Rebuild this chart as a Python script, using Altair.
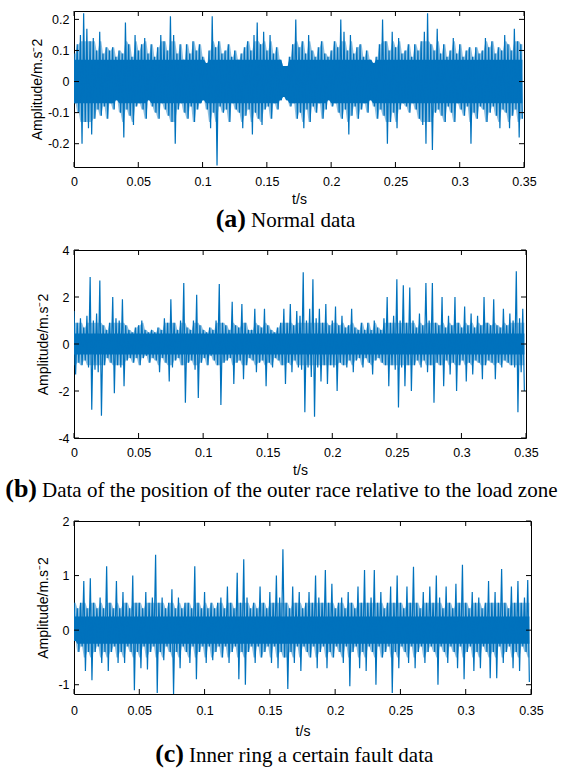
import altair as alt
import pandas as pd

STEP = 0.0025  # sampling step of the envelope (s)

# ---- panel (a): normal data, upper / lower excursions per step ----
A_HI = [0.09, 0.12, 0.15, 0.22, 0.17, 0.13, 0.14, 0.10, 0.16, 0.09,
        0.11, 0.10, 0.11, 0.08, 0.10, 0.09, 0.19, 0.12, 0.08, 0.15,
        0.10, 0.12, 0.14, 0.09, 0.12, 0.08, 0.11, 0.15, 0.13, 0.10,
        0.21, 0.15, 0.09, 0.12, 0.07, 0.12, 0.09, 0.13, 0.10, 0.12,
        0.08, 0.06, 0.10, 0.21, 0.11, 0.13, 0.09, 0.10, 0.12, 0.08,
        0.10, 0.07, 0.09, 0.11, 0.13, 0.10, 0.15, 0.19, 0.12, 0.16,
        0.10, 0.15, 0.09, 0.11, 0.07, 0.05, 0.05, 0.08, 0.12, 0.20,
        0.11, 0.13, 0.09, 0.15, 0.10, 0.08, 0.11, 0.13, 0.09, 0.08,
        0.10, 0.13, 0.11, 0.20, 0.16, 0.10, 0.15, 0.09, 0.11, 0.12,
        0.08, 0.10, 0.07, 0.06, 0.08, 0.12, 0.20, 0.13, 0.10, 0.16,
        0.11, 0.14, 0.09, 0.10, 0.12, 0.08, 0.12, 0.10, 0.13, 0.16,
        0.22, 0.12, 0.10, 0.17, 0.09, 0.12, 0.08, 0.10, 0.14, 0.09,
        0.12, 0.08, 0.10, 0.11, 0.08, 0.11, 0.09, 0.10, 0.14, 0.11,
        0.13, 0.09, 0.11, 0.10, 0.15, 0.12, 0.10, 0.17, 0.13, 0.12]
A_LO = [-0.07, -0.10, -0.20, -0.13, -0.15, -0.17, -0.12, -0.09, -0.11, -0.08,
        -0.12, -0.07, -0.09, -0.06, -0.10, -0.18, -0.09, -0.11, -0.14, -0.08,
        -0.07, -0.09, -0.12, -0.06, -0.08, -0.10, -0.12, -0.07, -0.09, -0.11,
        -0.13, -0.20, -0.09, -0.07, -0.10, -0.12, -0.08, -0.13, -0.09, -0.07,
        -0.06, -0.09, -0.15, -0.10, -0.27, -0.08, -0.10, -0.09, -0.13, -0.07,
        -0.09, -0.10, -0.15, -0.11, -0.09, -0.17, -0.10, -0.12, -0.14, -0.09,
        -0.08, -0.12, -0.07, -0.09, -0.06, -0.05, -0.06, -0.08, -0.07, -0.12,
        -0.10, -0.15, -0.09, -0.13, -0.08, -0.10, -0.07, -0.12, -0.09, -0.06,
        -0.08, -0.07, -0.10, -0.12, -0.09, -0.17, -0.11, -0.08, -0.12, -0.09,
        -0.07, -0.10, -0.06, -0.08, -0.12, -0.09, -0.11, -0.20, -0.13, -0.10,
        -0.15, -0.09, -0.07, -0.08, -0.10, -0.07, -0.09, -0.12, -0.14, -0.20,
        -0.13, -0.22, -0.10, -0.09, -0.11, -0.13, -0.08, -0.10, -0.13, -0.07,
        -0.09, -0.11, -0.08, -0.20, -0.10, -0.12, -0.08, -0.09, -0.13, -0.10,
        -0.08, -0.11, -0.15, -0.09, -0.10, -0.15, -0.11, -0.09, -0.18, -0.12]

# ---- panel (b): outer race / load zone ----
B_HI = [1.4, 0.9, 1.1, 0.7, 1.2, 2.85, 1.0, 1.3, 2.7, 0.8,
        0.6, 0.9, 2.0, 1.1, 1.0, 1.9, 0.8, 0.6, 0.5, 0.7,
        0.8, 1.0, 0.6, 0.5, 0.6, 0.5, 0.7, 0.6, 1.1, 0.9,
        1.9, 0.9, 0.6, 1.0, 2.6, 0.7, 0.6, 1.0, 2.1, 0.8,
        0.6, 0.5, 0.7, 0.6, 1.0, 2.55, 0.9, 0.8, 0.6, 1.8,
        0.8, 0.7, 1.7, 0.9, 0.6, 0.6, 1.5, 0.8, 0.7, 1.5,
        0.8, 0.6, 0.5, 0.7, 0.9, 1.5, 0.9, 1.7, 0.8, 1.4,
        1.2, 3.05, 1.0, 1.5, 2.75, 1.1, 1.5, 0.9, 1.7, 0.8,
        1.0, 1.6, 0.8, 1.2, 0.7, 0.8, 1.5, 0.7, 0.6, 0.9,
        0.6, 0.9, 0.6, 1.0, 0.7, 0.6, 1.1, 2.0, 0.9, 1.2,
        2.75, 1.0, 2.5, 0.9, 2.4, 1.0, 0.7, 1.3, 0.8, 2.6,
        1.0, 2.6, 0.9, 0.8, 2.0, 0.7, 1.2, 0.8, 2.0, 0.9,
        0.7, 1.6, 0.8, 1.3, 0.7, 1.2, 0.8, 2.0, 0.9, 0.8,
        1.9, 0.8, 0.7, 1.5, 0.8, 1.3, 1.0, 3.1, 1.1, 1.5]
B_LO = [-1.3, -0.8, -0.9, -0.7, -1.0, -2.8, -1.1, -1.2, -3.05, -0.9,
        -0.6, -0.8, -2.1, -0.9, -1.0, -1.8, -0.7, -0.6, -0.8, -0.6,
        -0.9, -0.6, -0.5, -0.8, -0.6, -0.7, -1.2, -0.6, -0.8, -1.6,
        -1.0, -0.7, -0.6, -0.9, -2.5, -0.8, -0.7, -1.1, -2.3, -0.8,
        -0.6, -0.9, -0.5, -0.7, -0.9, -2.6, -0.8, -0.7, -0.6, -1.7,
        -0.8, -0.7, -1.5, -0.9, -0.6, -0.7, -1.2, -0.8, -0.7, -1.8,
        -0.8, -1.0, -0.6, -0.7, -0.9, -1.7, -0.8, -1.2, -0.7, -1.0,
        -1.1, -2.9, -1.0, -1.4, -3.1, -1.0, -1.6, -0.9, -1.7, -0.9,
        -1.0, -2.0, -0.8, -0.9, -1.0, -0.7, -1.2, -0.7, -0.6, -1.0,
        -0.6, -0.8, -1.3, -0.7, -0.6, -0.8, -0.9, -1.8, -0.9, -1.1,
        -2.7, -1.0, -1.8, -0.9, -2.0, -0.9, -0.7, -1.0, -0.7, -1.2,
        -0.9, -2.5, -0.8, -0.9, -1.8, -0.7, -1.3, -0.8, -2.0, -0.9,
        -0.7, -1.6, -0.8, -1.3, -0.7, -0.8, -1.5, -0.9, -0.7, -0.8,
        -1.5, -0.8, -1.0, -0.7, -0.8, -0.9, -1.0, -2.9, -1.2, -2.0]

# ---- panel (c): inner ring fault ----
C_HI = [0.5, 0.4, 0.5, 0.9, 0.4, 0.95, 0.5, 0.4, 0.6, 0.4,
        1.17, 0.5, 0.4, 0.9, 0.4, 0.7, 0.5, 0.4, 1.0, 0.5,
        0.5, 0.4, 0.7, 0.5, 0.6, 1.38, 0.5, 0.6, 0.4, 0.5,
        0.75, 0.4, 0.6, 0.4, 0.5, 0.5, 0.4, 1.17, 0.5, 0.4,
        0.7, 0.4, 0.5, 0.4, 0.5, 0.6, 0.4, 0.8, 0.5, 0.4,
        1.05, 0.5, 1.3, 0.6, 0.4, 0.5, 0.4, 0.8, 0.5, 0.4,
        0.7, 0.5, 1.0, 0.6, 1.48, 0.5, 0.4, 0.8, 0.5, 0.7,
        0.4, 0.5, 0.7, 0.5, 1.0, 0.6, 0.5, 1.1, 0.5, 0.85,
        0.4, 0.5, 0.6, 0.4, 0.7, 0.5, 0.4, 0.8, 0.5, 1.1,
        0.5, 0.6, 1.1, 0.5, 0.7, 0.4, 0.5, 0.8, 0.5, 1.0,
        0.5, 0.4, 0.8, 0.5, 1.16, 0.5, 0.4, 0.7, 0.5, 0.8,
        0.5, 1.0, 0.6, 0.4, 0.8, 0.5, 0.4, 0.85, 0.5, 1.2,
        0.5, 0.4, 0.7, 0.5, 0.6, 0.4, 0.5, 0.9, 0.5, 0.7,
        0.5, 1.12, 0.5, 0.4, 0.8, 0.5, 0.9, 0.5, 0.6, 0.92]
C_LO = [-0.2, -0.4, -0.3, -0.75, -0.4, -0.92, -0.4, -0.3, -0.6, -0.4,
        -0.75, -0.4, -0.3, -0.6, -0.4, -0.6, -0.3, -0.4, -1.1, -0.4,
        -0.7, -0.3, -0.72, -0.4, -0.3, -1.15, -0.4, -0.55, -0.3, -0.4,
        -1.17, -0.4, -0.7, -0.3, -0.4, -0.6, -0.3, -0.9, -0.4, -0.3,
        -0.6, -0.3, -0.55, -0.4, -0.3, -0.5, -0.3, -0.6, -0.4, -0.3,
        -0.9, -0.4, -1.0, -0.4, -0.3, -0.6, -0.3, -0.5, -0.4, -0.3,
        -0.6, -0.3, -0.7, -0.4, -0.5, -1.08, -0.4, -0.6, -0.3, -0.75,
        -0.3, -0.4, -0.5, -0.3, -0.7, -0.4, -0.3, -0.7, -0.4, -0.5,
        -0.3, -0.4, -0.6, -0.3, -1.03, -0.4, -0.3, -0.7, -0.4, -0.75,
        -0.3, -0.4, -1.0, -0.3, -0.5, -0.4, -0.3, -1.15, -0.4, -0.7,
        -0.3, -0.4, -0.6, -0.3, -0.7, -0.4, -0.3, -0.6, -0.4, -0.3,
        -0.4, -1.0, -0.3, -0.4, -0.6, -0.3, -0.4, -0.7, -0.3, -0.9,
        -0.4, -0.3, -0.75, -0.4, -0.7, -0.3, -0.4, -0.88, -0.4, -0.88,
        -0.3, -0.6, -0.4, -0.3, -0.7, -0.4, -0.75, -0.3, -0.4, -0.95]

# half-height of the solid core and of the half-filled fringe of each trace
A_CORE, A_FRINGE = 0.07, 0.13
B_CORE, B_FRINGE = 0.45, 0.9
C_CORE, C_FRINGE = 0.25, 0.5

X_TICKS = [0, 0.05, 0.1, 0.15, 0.2, 0.25, 0.3, 0.35]
X_DOMAIN = [0, 0.35]
A_YTICKS = [-0.2, -0.1, 0, 0.1, 0.2]
B_YTICKS = [-4, -2, 0, 2, 4]
C_YTICKS = [-1, 0, 1, 2]
A_DOMAIN = [-0.275, 0.227]
B_DOMAIN = [-4, 4]
C_DOMAIN = [-1.17, 2]

TAGS = ["(a)", "(b)", "(c)"]
CAPTIONS = ["Normal data",
            "Data of the position of the outer race relative to the load zone",
            "Inner ring a certain fault data"]
X_TITLE = "t/s"
Y_TITLE = "Amplitude/m.s\u207b2"

BLUE = "#0072BD"


def signal_frame(hi, lo, core, fringe):
    rows = []
    for i, (h, l) in enumerate(zip(hi, lo)):
        r = {"ch": min(h, core), "cl": max(l, -core),
             "fh": min(h, fringe), "fl": max(l, -fringe)}
        rows.append(dict(r, t=i * STEP, v=h))
        rows.append(dict(r, t=i * STEP + STEP / 2, v=l))
    return pd.DataFrame(rows)


def panel(hi, lo, core, fringe, yticks, ydomain, w, h, tag, text, tag_x, cap_y,
          lab_pad=8, x_title_pad=5, y_title_pad=4):
    xs = alt.Scale(domain=X_DOMAIN, nice=False, zero=False)
    ys = alt.Scale(domain=ydomain, nice=False, zero=False)
    xax = alt.Axis(values=X_TICKS, labelExpr="'' + datum.value",
                   title=X_TITLE, ticks=False, domain=False, grid=False,
                   labelFlush=False, labelOverlap=False,
                   labelPadding=lab_pad, titlePadding=x_title_pad)
    yax = alt.Axis(values=yticks, labelExpr="'' + datum.value",
                   title=Y_TITLE, ticks=False, domain=False, grid=False,
                   labelFlush=False, labelOverlap=False,
                   labelPadding=5, titlePadding=y_title_pad)
    df = signal_frame(hi, lo, core, fringe)
    base = alt.Chart(df)
    fr = base.mark_area(color=BLUE, opacity=0.45, clip=True).encode(
        x=alt.X("t:Q", scale=xs, axis=xax),
        y=alt.Y("fh:Q", scale=ys, axis=yax), y2="fl:Q")
    co = base.mark_area(color=BLUE, opacity=1, clip=True).encode(
        x=alt.X("t:Q", scale=xs, axis=xax),
        y=alt.Y("ch:Q", scale=ys, axis=yax), y2="cl:Q")
    line = base.mark_line(color=BLUE, strokeWidth=1.2, clip=True).encode(
        x=alt.X("t:Q", scale=xs, axis=xax),
        y=alt.Y("v:Q", scale=ys, axis=yax))
    xt = pd.DataFrame({"tick": X_TICKS})
    yt = pd.DataFrame({"tick": yticks})
    xb = alt.Chart(xt).mark_rule(color="black", strokeWidth=1).encode(
        x=alt.X("tick:Q", scale=xs, axis=xax), y=alt.value(h), y2=alt.value(h - 5))
    xtp = alt.Chart(xt).mark_rule(color="black", strokeWidth=1).encode(
        x=alt.X("tick:Q", scale=xs, axis=xax), y=alt.value(0), y2=alt.value(5))
    yl = alt.Chart(yt).mark_rule(color="black", strokeWidth=1).encode(
        y=alt.Y("tick:Q", scale=ys, axis=yax), x=alt.value(0), x2=alt.value(5))
    yr = alt.Chart(yt).mark_rule(color="black", strokeWidth=1).encode(
        y=alt.Y("tick:Q", scale=ys, axis=yax), x=alt.value(w - 5), x2=alt.value(w))
    cap = pd.DataFrame({"tag": [tag], "text": [text]})
    tag_mark = alt.Chart(cap).mark_text(
        font="Liberation Serif", fontWeight="bold", fontSize=26,
        align="right", baseline="alphabetic", color="black"
    ).encode(text="tag:N", x=alt.value(tag_x), y=alt.value(cap_y))
    text_mark = alt.Chart(cap).mark_text(
        font="Liberation Serif", fontSize=21,
        align="left", baseline="alphabetic", color="black"
    ).encode(text="text:N", x=alt.value(tag_x + 5), y=alt.value(cap_y))
    return alt.layer(fr, co, line, xb, xtp, yl, yr, tag_mark, text_mark).properties(
        width=w, height=h)


pa = panel(A_HI, A_LO, A_CORE, A_FRINGE, A_YTICKS, A_DOMAIN, 450, 156,
           TAGS[0], CAPTIONS[0], 172, 216, lab_pad=8, x_title_pad=5, y_title_pad=3)
pb = panel(B_HI, B_LO, B_CORE, B_FRINGE, B_YTICKS, B_DOMAIN, 452, 188,
           TAGS[1], CAPTIONS[1], -37, 247, lab_pad=8, x_title_pad=5, y_title_pad=7)
pc = panel(C_HI, C_LO, C_CORE, C_FRINGE, C_YTICKS, C_DOMAIN, 457, 173,
           TAGS[2], CAPTIONS[2], 110, 241, lab_pad=10, x_title_pad=8, y_title_pad=7)

chart = alt.vconcat(pa, pb, pc, spacing=83, bounds="flush").properties(
    padding={"left": 4, "top": 10, "right": 0, "bottom": 0}
).configure_view(
    stroke="black", strokeWidth=1
).configure_axis(
    labelFont="Liberation Sans", labelFontSize=12.5, labelColor="black",
    titleFont="Liberation Sans", titleFontSize=14, titleFontWeight="normal",
    titleColor="black"
)

chart.save("out.html", embed_options={"renderer": "svg", "actions": False})
